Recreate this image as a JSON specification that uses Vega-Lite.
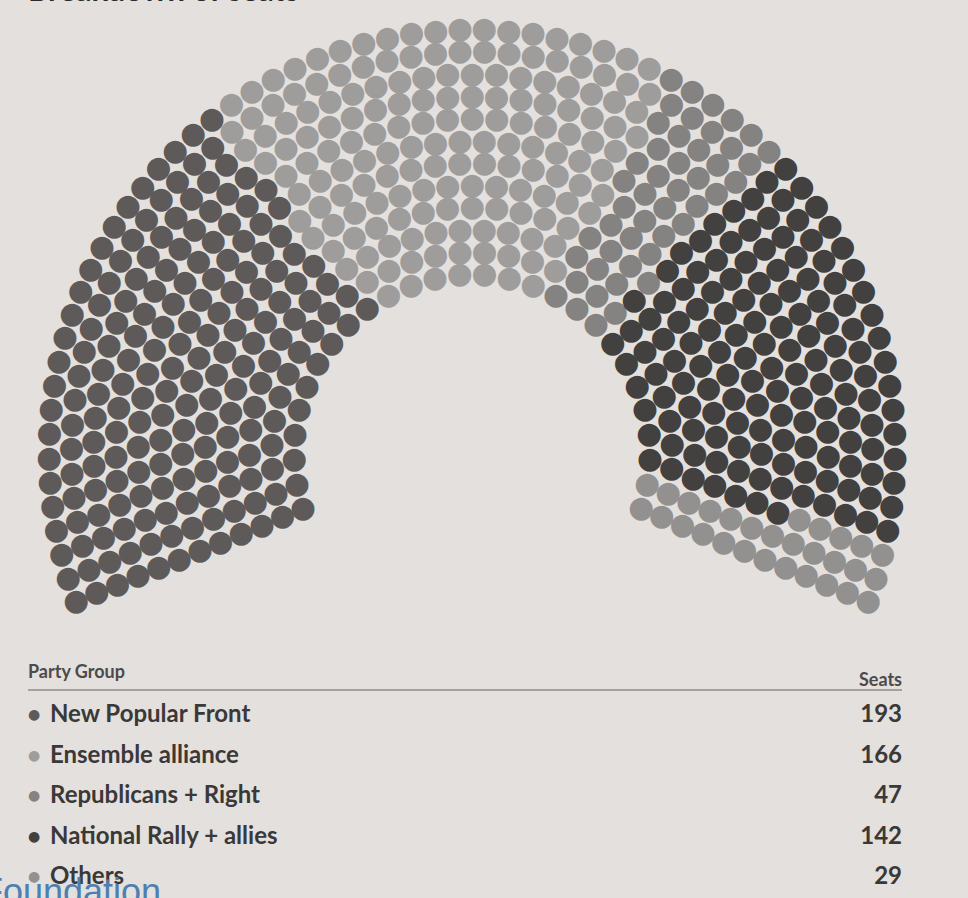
{
"$schema": "https://vega.github.io/schema/vega-lite/v6.json",
"width": 944,
"height": 886,
"autosize": {"type": "none"},
"padding": {"left": 0, "top": 12, "right": 24, "bottom": 0},
"background": "#e3e0dd",
"config": {"view": {"stroke": null}},
"title": {"text": "Breakdown of seats", "anchor": "start", "frame": "group", "offset": -20, "baseline": "alphabetic", "fontSize": 31, "font": "Lato", "fontWeight": "bold", "color": "#2b2929", "dx": 28},
"datasets": {
"parties": [
{"p":"NPF","name":"New Popular Front","seats":193},
{"p":"ENS","name":"Ensemble alliance","seats":166},
{"p":"LR","name":"Republicans + Right","seats":47},
{"p":"RN","name":"National Rally + allies","seats":142},
{"p":"OTH","name":"Others","seats":29}
],
"seats": [
{"r":1,"s":0,"p":"NPF"},{"r":1,"s":1,"p":"NPF"},{"r":1,"s":2,"p":"NPF"},{"r":1,"s":3,"p":"NPF"},{"r":1,"s":4,"p":"NPF"},{"r":1,"s":5,"p":"NPF"},{"r":1,"s":6,"p":"NPF"},{"r":1,"s":7,"p":"NPF"},{"r":1,"s":8,"p":"NPF"},{"r":1,"s":9,"p":"NPF"},
{"r":1,"s":10,"p":"ENS"},{"r":1,"s":11,"p":"ENS"},{"r":1,"s":12,"p":"ENS"},{"r":1,"s":13,"p":"ENS"},{"r":1,"s":14,"p":"ENS"},{"r":1,"s":15,"p":"ENS"},{"r":1,"s":16,"p":"ENS"},
{"r":1,"s":17,"p":"LR"},{"r":1,"s":18,"p":"LR"},{"r":1,"s":19,"p":"LR"},
{"r":1,"s":20,"p":"RN"},{"r":1,"s":21,"p":"RN"},{"r":1,"s":22,"p":"RN"},{"r":1,"s":23,"p":"RN"},{"r":1,"s":24,"p":"RN"},{"r":1,"s":25,"p":"RN"},
{"r":1,"s":26,"p":"OTH"},{"r":1,"s":27,"p":"OTH"},
{"r":2,"s":0,"p":"NPF"},{"r":2,"s":1,"p":"NPF"},{"r":2,"s":2,"p":"NPF"},{"r":2,"s":3,"p":"NPF"},{"r":2,"s":4,"p":"NPF"},{"r":2,"s":5,"p":"NPF"},{"r":2,"s":6,"p":"NPF"},{"r":2,"s":7,"p":"NPF"},{"r":2,"s":8,"p":"NPF"},{"r":2,"s":9,"p":"NPF"},{"r":2,"s":10,"p":"NPF"},
{"r":2,"s":11,"p":"ENS"},{"r":2,"s":12,"p":"ENS"},{"r":2,"s":13,"p":"ENS"},{"r":2,"s":14,"p":"ENS"},{"r":2,"s":15,"p":"ENS"},{"r":2,"s":16,"p":"ENS"},{"r":2,"s":17,"p":"ENS"},{"r":2,"s":18,"p":"ENS"},{"r":2,"s":19,"p":"ENS"},
{"r":2,"s":20,"p":"LR"},{"r":2,"s":21,"p":"LR"},{"r":2,"s":22,"p":"LR"},
{"r":2,"s":23,"p":"RN"},{"r":2,"s":24,"p":"RN"},{"r":2,"s":25,"p":"RN"},{"r":2,"s":26,"p":"RN"},{"r":2,"s":27,"p":"RN"},{"r":2,"s":28,"p":"RN"},{"r":2,"s":29,"p":"RN"},
{"r":2,"s":30,"p":"OTH"},{"r":2,"s":31,"p":"OTH"},
{"r":3,"s":0,"p":"NPF"},{"r":3,"s":1,"p":"NPF"},{"r":3,"s":2,"p":"NPF"},{"r":3,"s":3,"p":"NPF"},{"r":3,"s":4,"p":"NPF"},{"r":3,"s":5,"p":"NPF"},{"r":3,"s":6,"p":"NPF"},{"r":3,"s":7,"p":"NPF"},{"r":3,"s":8,"p":"NPF"},{"r":3,"s":9,"p":"NPF"},{"r":3,"s":10,"p":"NPF"},{"r":3,"s":11,"p":"NPF"},
{"r":3,"s":12,"p":"ENS"},{"r":3,"s":13,"p":"ENS"},{"r":3,"s":14,"p":"ENS"},{"r":3,"s":15,"p":"ENS"},{"r":3,"s":16,"p":"ENS"},{"r":3,"s":17,"p":"ENS"},{"r":3,"s":18,"p":"ENS"},{"r":3,"s":19,"p":"ENS"},{"r":3,"s":20,"p":"ENS"},{"r":3,"s":21,"p":"ENS"},
{"r":3,"s":22,"p":"LR"},{"r":3,"s":23,"p":"LR"},{"r":3,"s":24,"p":"LR"},
{"r":3,"s":25,"p":"RN"},{"r":3,"s":26,"p":"RN"},{"r":3,"s":27,"p":"RN"},{"r":3,"s":28,"p":"RN"},{"r":3,"s":29,"p":"RN"},{"r":3,"s":30,"p":"RN"},{"r":3,"s":31,"p":"RN"},{"r":3,"s":32,"p":"RN"},{"r":3,"s":33,"p":"RN"},
{"r":3,"s":34,"p":"OTH"},{"r":3,"s":35,"p":"OTH"},
{"r":4,"s":0,"p":"NPF"},{"r":4,"s":1,"p":"NPF"},{"r":4,"s":2,"p":"NPF"},{"r":4,"s":3,"p":"NPF"},{"r":4,"s":4,"p":"NPF"},{"r":4,"s":5,"p":"NPF"},{"r":4,"s":6,"p":"NPF"},{"r":4,"s":7,"p":"NPF"},{"r":4,"s":8,"p":"NPF"},{"r":4,"s":9,"p":"NPF"},{"r":4,"s":10,"p":"NPF"},{"r":4,"s":11,"p":"NPF"},{"r":4,"s":12,"p":"NPF"},
{"r":4,"s":13,"p":"ENS"},{"r":4,"s":14,"p":"ENS"},{"r":4,"s":15,"p":"ENS"},{"r":4,"s":16,"p":"ENS"},{"r":4,"s":17,"p":"ENS"},{"r":4,"s":18,"p":"ENS"},{"r":4,"s":19,"p":"ENS"},{"r":4,"s":20,"p":"ENS"},{"r":4,"s":21,"p":"ENS"},{"r":4,"s":22,"p":"ENS"},{"r":4,"s":23,"p":"ENS"},
{"r":4,"s":24,"p":"LR"},{"r":4,"s":25,"p":"LR"},{"r":4,"s":26,"p":"LR"},{"r":4,"s":27,"p":"LR"},
{"r":4,"s":28,"p":"RN"},{"r":4,"s":29,"p":"RN"},{"r":4,"s":30,"p":"RN"},{"r":4,"s":31,"p":"RN"},{"r":4,"s":32,"p":"RN"},{"r":4,"s":33,"p":"RN"},{"r":4,"s":34,"p":"RN"},{"r":4,"s":35,"p":"RN"},{"r":4,"s":36,"p":"RN"},
{"r":4,"s":37,"p":"OTH"},{"r":4,"s":38,"p":"OTH"},
{"r":5,"s":0,"p":"NPF"},{"r":5,"s":1,"p":"NPF"},{"r":5,"s":2,"p":"NPF"},{"r":5,"s":3,"p":"NPF"},{"r":5,"s":4,"p":"NPF"},{"r":5,"s":5,"p":"NPF"},{"r":5,"s":6,"p":"NPF"},{"r":5,"s":7,"p":"NPF"},{"r":5,"s":8,"p":"NPF"},{"r":5,"s":9,"p":"NPF"},{"r":5,"s":10,"p":"NPF"},{"r":5,"s":11,"p":"NPF"},{"r":5,"s":12,"p":"NPF"},{"r":5,"s":13,"p":"NPF"},
{"r":5,"s":14,"p":"ENS"},{"r":5,"s":15,"p":"ENS"},{"r":5,"s":16,"p":"ENS"},{"r":5,"s":17,"p":"ENS"},{"r":5,"s":18,"p":"ENS"},{"r":5,"s":19,"p":"ENS"},{"r":5,"s":20,"p":"ENS"},{"r":5,"s":21,"p":"ENS"},{"r":5,"s":22,"p":"ENS"},{"r":5,"s":23,"p":"ENS"},{"r":5,"s":24,"p":"ENS"},{"r":5,"s":25,"p":"ENS"},{"r":5,"s":26,"p":"ENS"},
{"r":5,"s":27,"p":"LR"},{"r":5,"s":28,"p":"LR"},{"r":5,"s":29,"p":"LR"},
{"r":5,"s":30,"p":"RN"},{"r":5,"s":31,"p":"RN"},{"r":5,"s":32,"p":"RN"},{"r":5,"s":33,"p":"RN"},{"r":5,"s":34,"p":"RN"},{"r":5,"s":35,"p":"RN"},{"r":5,"s":36,"p":"RN"},{"r":5,"s":37,"p":"RN"},{"r":5,"s":38,"p":"RN"},{"r":5,"s":39,"p":"RN"},{"r":5,"s":40,"p":"RN"},
{"r":5,"s":41,"p":"OTH"},{"r":5,"s":42,"p":"OTH"},
{"r":6,"s":0,"p":"NPF"},{"r":6,"s":1,"p":"NPF"},{"r":6,"s":2,"p":"NPF"},{"r":6,"s":3,"p":"NPF"},{"r":6,"s":4,"p":"NPF"},{"r":6,"s":5,"p":"NPF"},{"r":6,"s":6,"p":"NPF"},{"r":6,"s":7,"p":"NPF"},{"r":6,"s":8,"p":"NPF"},{"r":6,"s":9,"p":"NPF"},{"r":6,"s":10,"p":"NPF"},{"r":6,"s":11,"p":"NPF"},{"r":6,"s":12,"p":"NPF"},{"r":6,"s":13,"p":"NPF"},{"r":6,"s":14,"p":"NPF"},
{"r":6,"s":15,"p":"ENS"},{"r":6,"s":16,"p":"ENS"},{"r":6,"s":17,"p":"ENS"},{"r":6,"s":18,"p":"ENS"},{"r":6,"s":19,"p":"ENS"},{"r":6,"s":20,"p":"ENS"},{"r":6,"s":21,"p":"ENS"},{"r":6,"s":22,"p":"ENS"},{"r":6,"s":23,"p":"ENS"},{"r":6,"s":24,"p":"ENS"},{"r":6,"s":25,"p":"ENS"},{"r":6,"s":26,"p":"ENS"},{"r":6,"s":27,"p":"ENS"},{"r":6,"s":28,"p":"ENS"},
{"r":6,"s":29,"p":"LR"},{"r":6,"s":30,"p":"LR"},{"r":6,"s":31,"p":"LR"},
{"r":6,"s":32,"p":"RN"},{"r":6,"s":33,"p":"RN"},{"r":6,"s":34,"p":"RN"},{"r":6,"s":35,"p":"RN"},{"r":6,"s":36,"p":"RN"},{"r":6,"s":37,"p":"RN"},{"r":6,"s":38,"p":"RN"},{"r":6,"s":39,"p":"RN"},{"r":6,"s":40,"p":"RN"},{"r":6,"s":41,"p":"RN"},{"r":6,"s":42,"p":"RN"},{"r":6,"s":43,"p":"RN"},
{"r":6,"s":44,"p":"OTH"},{"r":6,"s":45,"p":"OTH"},
{"r":7,"s":0,"p":"NPF"},{"r":7,"s":1,"p":"NPF"},{"r":7,"s":2,"p":"NPF"},{"r":7,"s":3,"p":"NPF"},{"r":7,"s":4,"p":"NPF"},{"r":7,"s":5,"p":"NPF"},{"r":7,"s":6,"p":"NPF"},{"r":7,"s":7,"p":"NPF"},{"r":7,"s":8,"p":"NPF"},{"r":7,"s":9,"p":"NPF"},{"r":7,"s":10,"p":"NPF"},{"r":7,"s":11,"p":"NPF"},{"r":7,"s":12,"p":"NPF"},{"r":7,"s":13,"p":"NPF"},{"r":7,"s":14,"p":"NPF"},{"r":7,"s":15,"p":"NPF"},{"r":7,"s":16,"p":"NPF"},
{"r":7,"s":17,"p":"ENS"},{"r":7,"s":18,"p":"ENS"},{"r":7,"s":19,"p":"ENS"},{"r":7,"s":20,"p":"ENS"},{"r":7,"s":21,"p":"ENS"},{"r":7,"s":22,"p":"ENS"},{"r":7,"s":23,"p":"ENS"},{"r":7,"s":24,"p":"ENS"},{"r":7,"s":25,"p":"ENS"},{"r":7,"s":26,"p":"ENS"},{"r":7,"s":27,"p":"ENS"},{"r":7,"s":28,"p":"ENS"},{"r":7,"s":29,"p":"ENS"},{"r":7,"s":30,"p":"ENS"},
{"r":7,"s":31,"p":"LR"},{"r":7,"s":32,"p":"LR"},{"r":7,"s":33,"p":"LR"},{"r":7,"s":34,"p":"LR"},
{"r":7,"s":35,"p":"RN"},{"r":7,"s":36,"p":"RN"},{"r":7,"s":37,"p":"RN"},{"r":7,"s":38,"p":"RN"},{"r":7,"s":39,"p":"RN"},{"r":7,"s":40,"p":"RN"},{"r":7,"s":41,"p":"RN"},{"r":7,"s":42,"p":"RN"},{"r":7,"s":43,"p":"RN"},{"r":7,"s":44,"p":"RN"},{"r":7,"s":45,"p":"RN"},{"r":7,"s":46,"p":"RN"},{"r":7,"s":47,"p":"RN"},
{"r":7,"s":48,"p":"OTH"},{"r":7,"s":49,"p":"OTH"},
{"r":8,"s":0,"p":"NPF"},{"r":8,"s":1,"p":"NPF"},{"r":8,"s":2,"p":"NPF"},{"r":8,"s":3,"p":"NPF"},{"r":8,"s":4,"p":"NPF"},{"r":8,"s":5,"p":"NPF"},{"r":8,"s":6,"p":"NPF"},{"r":8,"s":7,"p":"NPF"},{"r":8,"s":8,"p":"NPF"},{"r":8,"s":9,"p":"NPF"},{"r":8,"s":10,"p":"NPF"},{"r":8,"s":11,"p":"NPF"},{"r":8,"s":12,"p":"NPF"},{"r":8,"s":13,"p":"NPF"},{"r":8,"s":14,"p":"NPF"},{"r":8,"s":15,"p":"NPF"},{"r":8,"s":16,"p":"NPF"},{"r":8,"s":17,"p":"NPF"},
{"r":8,"s":18,"p":"ENS"},{"r":8,"s":19,"p":"ENS"},{"r":8,"s":20,"p":"ENS"},{"r":8,"s":21,"p":"ENS"},{"r":8,"s":22,"p":"ENS"},{"r":8,"s":23,"p":"ENS"},{"r":8,"s":24,"p":"ENS"},{"r":8,"s":25,"p":"ENS"},{"r":8,"s":26,"p":"ENS"},{"r":8,"s":27,"p":"ENS"},{"r":8,"s":28,"p":"ENS"},{"r":8,"s":29,"p":"ENS"},{"r":8,"s":30,"p":"ENS"},{"r":8,"s":31,"p":"ENS"},{"r":8,"s":32,"p":"ENS"},
{"r":8,"s":33,"p":"LR"},{"r":8,"s":34,"p":"LR"},{"r":8,"s":35,"p":"LR"},{"r":8,"s":36,"p":"LR"},
{"r":8,"s":37,"p":"RN"},{"r":8,"s":38,"p":"RN"},{"r":8,"s":39,"p":"RN"},{"r":8,"s":40,"p":"RN"},{"r":8,"s":41,"p":"RN"},{"r":8,"s":42,"p":"RN"},{"r":8,"s":43,"p":"RN"},{"r":8,"s":44,"p":"RN"},{"r":8,"s":45,"p":"RN"},{"r":8,"s":46,"p":"RN"},{"r":8,"s":47,"p":"RN"},{"r":8,"s":48,"p":"RN"},{"r":8,"s":49,"p":"RN"},
{"r":8,"s":50,"p":"OTH"},{"r":8,"s":51,"p":"OTH"},{"r":8,"s":52,"p":"OTH"},
{"r":9,"s":0,"p":"NPF"},{"r":9,"s":1,"p":"NPF"},{"r":9,"s":2,"p":"NPF"},{"r":9,"s":3,"p":"NPF"},{"r":9,"s":4,"p":"NPF"},{"r":9,"s":5,"p":"NPF"},{"r":9,"s":6,"p":"NPF"},{"r":9,"s":7,"p":"NPF"},{"r":9,"s":8,"p":"NPF"},{"r":9,"s":9,"p":"NPF"},{"r":9,"s":10,"p":"NPF"},{"r":9,"s":11,"p":"NPF"},{"r":9,"s":12,"p":"NPF"},{"r":9,"s":13,"p":"NPF"},{"r":9,"s":14,"p":"NPF"},{"r":9,"s":15,"p":"NPF"},{"r":9,"s":16,"p":"NPF"},{"r":9,"s":17,"p":"NPF"},{"r":9,"s":18,"p":"NPF"},
{"r":9,"s":19,"p":"ENS"},{"r":9,"s":20,"p":"ENS"},{"r":9,"s":21,"p":"ENS"},{"r":9,"s":22,"p":"ENS"},{"r":9,"s":23,"p":"ENS"},{"r":9,"s":24,"p":"ENS"},{"r":9,"s":25,"p":"ENS"},{"r":9,"s":26,"p":"ENS"},{"r":9,"s":27,"p":"ENS"},{"r":9,"s":28,"p":"ENS"},{"r":9,"s":29,"p":"ENS"},{"r":9,"s":30,"p":"ENS"},{"r":9,"s":31,"p":"ENS"},{"r":9,"s":32,"p":"ENS"},{"r":9,"s":33,"p":"ENS"},{"r":9,"s":34,"p":"ENS"},{"r":9,"s":35,"p":"ENS"},
{"r":9,"s":36,"p":"LR"},{"r":9,"s":37,"p":"LR"},{"r":9,"s":38,"p":"LR"},{"r":9,"s":39,"p":"LR"},
{"r":9,"s":40,"p":"RN"},{"r":9,"s":41,"p":"RN"},{"r":9,"s":42,"p":"RN"},{"r":9,"s":43,"p":"RN"},{"r":9,"s":44,"p":"RN"},{"r":9,"s":45,"p":"RN"},{"r":9,"s":46,"p":"RN"},{"r":9,"s":47,"p":"RN"},{"r":9,"s":48,"p":"RN"},{"r":9,"s":49,"p":"RN"},{"r":9,"s":50,"p":"RN"},{"r":9,"s":51,"p":"RN"},{"r":9,"s":52,"p":"RN"},{"r":9,"s":53,"p":"RN"},
{"r":9,"s":54,"p":"OTH"},{"r":9,"s":55,"p":"OTH"},{"r":9,"s":56,"p":"OTH"},
{"r":10,"s":0,"p":"NPF"},{"r":10,"s":1,"p":"NPF"},{"r":10,"s":2,"p":"NPF"},{"r":10,"s":3,"p":"NPF"},{"r":10,"s":4,"p":"NPF"},{"r":10,"s":5,"p":"NPF"},{"r":10,"s":6,"p":"NPF"},{"r":10,"s":7,"p":"NPF"},{"r":10,"s":8,"p":"NPF"},{"r":10,"s":9,"p":"NPF"},{"r":10,"s":10,"p":"NPF"},{"r":10,"s":11,"p":"NPF"},{"r":10,"s":12,"p":"NPF"},{"r":10,"s":13,"p":"NPF"},{"r":10,"s":14,"p":"NPF"},{"r":10,"s":15,"p":"NPF"},{"r":10,"s":16,"p":"NPF"},{"r":10,"s":17,"p":"NPF"},{"r":10,"s":18,"p":"NPF"},{"r":10,"s":19,"p":"NPF"},
{"r":10,"s":20,"p":"ENS"},{"r":10,"s":21,"p":"ENS"},{"r":10,"s":22,"p":"ENS"},{"r":10,"s":23,"p":"ENS"},{"r":10,"s":24,"p":"ENS"},{"r":10,"s":25,"p":"ENS"},{"r":10,"s":26,"p":"ENS"},{"r":10,"s":27,"p":"ENS"},{"r":10,"s":28,"p":"ENS"},{"r":10,"s":29,"p":"ENS"},{"r":10,"s":30,"p":"ENS"},{"r":10,"s":31,"p":"ENS"},{"r":10,"s":32,"p":"ENS"},{"r":10,"s":33,"p":"ENS"},{"r":10,"s":34,"p":"ENS"},{"r":10,"s":35,"p":"ENS"},{"r":10,"s":36,"p":"ENS"},{"r":10,"s":37,"p":"ENS"},
{"r":10,"s":38,"p":"LR"},{"r":10,"s":39,"p":"LR"},{"r":10,"s":40,"p":"LR"},{"r":10,"s":41,"p":"LR"},{"r":10,"s":42,"p":"LR"},
{"r":10,"s":43,"p":"RN"},{"r":10,"s":44,"p":"RN"},{"r":10,"s":45,"p":"RN"},{"r":10,"s":46,"p":"RN"},{"r":10,"s":47,"p":"RN"},{"r":10,"s":48,"p":"RN"},{"r":10,"s":49,"p":"RN"},{"r":10,"s":50,"p":"RN"},{"r":10,"s":51,"p":"RN"},{"r":10,"s":52,"p":"RN"},{"r":10,"s":53,"p":"RN"},{"r":10,"s":54,"p":"RN"},{"r":10,"s":55,"p":"RN"},{"r":10,"s":56,"p":"RN"},{"r":10,"s":57,"p":"RN"},
{"r":10,"s":58,"p":"OTH"},{"r":10,"s":59,"p":"OTH"},{"r":10,"s":60,"p":"OTH"},
{"r":11,"s":0,"p":"NPF"},{"r":11,"s":1,"p":"NPF"},{"r":11,"s":2,"p":"NPF"},{"r":11,"s":3,"p":"NPF"},{"r":11,"s":4,"p":"NPF"},{"r":11,"s":5,"p":"NPF"},{"r":11,"s":6,"p":"NPF"},{"r":11,"s":7,"p":"NPF"},{"r":11,"s":8,"p":"NPF"},{"r":11,"s":9,"p":"NPF"},{"r":11,"s":10,"p":"NPF"},{"r":11,"s":11,"p":"NPF"},{"r":11,"s":12,"p":"NPF"},{"r":11,"s":13,"p":"NPF"},{"r":11,"s":14,"p":"NPF"},{"r":11,"s":15,"p":"NPF"},{"r":11,"s":16,"p":"NPF"},{"r":11,"s":17,"p":"NPF"},{"r":11,"s":18,"p":"NPF"},{"r":11,"s":19,"p":"NPF"},{"r":11,"s":20,"p":"NPF"},
{"r":11,"s":21,"p":"ENS"},{"r":11,"s":22,"p":"ENS"},{"r":11,"s":23,"p":"ENS"},{"r":11,"s":24,"p":"ENS"},{"r":11,"s":25,"p":"ENS"},{"r":11,"s":26,"p":"ENS"},{"r":11,"s":27,"p":"ENS"},{"r":11,"s":28,"p":"ENS"},{"r":11,"s":29,"p":"ENS"},{"r":11,"s":30,"p":"ENS"},{"r":11,"s":31,"p":"ENS"},{"r":11,"s":32,"p":"ENS"},{"r":11,"s":33,"p":"ENS"},{"r":11,"s":34,"p":"ENS"},{"r":11,"s":35,"p":"ENS"},{"r":11,"s":36,"p":"ENS"},{"r":11,"s":37,"p":"ENS"},{"r":11,"s":38,"p":"ENS"},{"r":11,"s":39,"p":"ENS"},
{"r":11,"s":40,"p":"LR"},{"r":11,"s":41,"p":"LR"},{"r":11,"s":42,"p":"LR"},{"r":11,"s":43,"p":"LR"},{"r":11,"s":44,"p":"LR"},
{"r":11,"s":45,"p":"RN"},{"r":11,"s":46,"p":"RN"},{"r":11,"s":47,"p":"RN"},{"r":11,"s":48,"p":"RN"},{"r":11,"s":49,"p":"RN"},{"r":11,"s":50,"p":"RN"},{"r":11,"s":51,"p":"RN"},{"r":11,"s":52,"p":"RN"},{"r":11,"s":53,"p":"RN"},{"r":11,"s":54,"p":"RN"},{"r":11,"s":55,"p":"RN"},{"r":11,"s":56,"p":"RN"},{"r":11,"s":57,"p":"RN"},{"r":11,"s":58,"p":"RN"},{"r":11,"s":59,"p":"RN"},{"r":11,"s":60,"p":"RN"},
{"r":11,"s":61,"p":"OTH"},{"r":11,"s":62,"p":"OTH"},{"r":11,"s":63,"p":"OTH"},
{"r":12,"s":0,"p":"NPF"},{"r":12,"s":1,"p":"NPF"},{"r":12,"s":2,"p":"NPF"},{"r":12,"s":3,"p":"NPF"},{"r":12,"s":4,"p":"NPF"},{"r":12,"s":5,"p":"NPF"},{"r":12,"s":6,"p":"NPF"},{"r":12,"s":7,"p":"NPF"},{"r":12,"s":8,"p":"NPF"},{"r":12,"s":9,"p":"NPF"},{"r":12,"s":10,"p":"NPF"},{"r":12,"s":11,"p":"NPF"},{"r":12,"s":12,"p":"NPF"},{"r":12,"s":13,"p":"NPF"},{"r":12,"s":14,"p":"NPF"},{"r":12,"s":15,"p":"NPF"},{"r":12,"s":16,"p":"NPF"},{"r":12,"s":17,"p":"NPF"},{"r":12,"s":18,"p":"NPF"},{"r":12,"s":19,"p":"NPF"},{"r":12,"s":20,"p":"NPF"},{"r":12,"s":21,"p":"NPF"},{"r":12,"s":22,"p":"NPF"},
{"r":12,"s":23,"p":"ENS"},{"r":12,"s":24,"p":"ENS"},{"r":12,"s":25,"p":"ENS"},{"r":12,"s":26,"p":"ENS"},{"r":12,"s":27,"p":"ENS"},{"r":12,"s":28,"p":"ENS"},{"r":12,"s":29,"p":"ENS"},{"r":12,"s":30,"p":"ENS"},{"r":12,"s":31,"p":"ENS"},{"r":12,"s":32,"p":"ENS"},{"r":12,"s":33,"p":"ENS"},{"r":12,"s":34,"p":"ENS"},{"r":12,"s":35,"p":"ENS"},{"r":12,"s":36,"p":"ENS"},{"r":12,"s":37,"p":"ENS"},{"r":12,"s":38,"p":"ENS"},{"r":12,"s":39,"p":"ENS"},{"r":12,"s":40,"p":"ENS"},{"r":12,"s":41,"p":"ENS"},
{"r":12,"s":42,"p":"LR"},{"r":12,"s":43,"p":"LR"},{"r":12,"s":44,"p":"LR"},{"r":12,"s":45,"p":"LR"},{"r":12,"s":46,"p":"LR"},{"r":12,"s":47,"p":"LR"},
{"r":12,"s":48,"p":"RN"},{"r":12,"s":49,"p":"RN"},{"r":12,"s":50,"p":"RN"},{"r":12,"s":51,"p":"RN"},{"r":12,"s":52,"p":"RN"},{"r":12,"s":53,"p":"RN"},{"r":12,"s":54,"p":"RN"},{"r":12,"s":55,"p":"RN"},{"r":12,"s":56,"p":"RN"},{"r":12,"s":57,"p":"RN"},{"r":12,"s":58,"p":"RN"},{"r":12,"s":59,"p":"RN"},{"r":12,"s":60,"p":"RN"},{"r":12,"s":61,"p":"RN"},{"r":12,"s":62,"p":"RN"},{"r":12,"s":63,"p":"RN"},{"r":12,"s":64,"p":"RN"},
{"r":12,"s":65,"p":"OTH"},{"r":12,"s":66,"p":"OTH"},{"r":12,"s":67,"p":"OTH"}
]
},
"layer": [
{
"data": {"name": "seats"},
"mark": {"type": "text", "font": "DejaVu Sans", "fontSize": 30, "baseline": "middle", "align": "center", "dy": -3},
"encoding": {
"theta": {"aggregate": "count", "type": "quantitative", "stack": "normalize", "scale": {"range": [-1.959, 1.959]}},
"radius": {"field": "r", "type": "quantitative", "scale": {"type": "linear", "domain": [1, 12], "range": [178, 423], "zero": false}},
"order": {"field": "s", "type": "quantitative", "sort": "ascending"},
"color": {"field": "p", "type": "nominal", "scale": {"domain": ["NPF","ENS","LR","RN","OTH"], "range": ["#5e5a5a","#9f9c9c","#858282","#434040","#939090"]}, "legend": null},
"text": {"value": "●"}
}
},
{
"data": {"name": "parties"},
"mark": {"type": "text", "font": "DejaVu Sans", "fontSize": 14, "baseline": "middle", "align": "left"},
"encoding": {
"x": {"datum": 0, "type": "quantitative", "scale": {"domain": [0, 1], "range": [28, 902]}, "axis": null},
"y": {"field": "p", "type": "nominal", "scale": {"type": "point", "domain": ["hdr","NPF","ENS","LR","RN","OTH"], "range": [663, 865], "padding": 0}, "axis": null},
"color": {"field": "p", "type": "nominal", "scale": {"domain": ["NPF","ENS","LR","RN","OTH"], "range": ["#5e5a5a","#9f9c9c","#858282","#434040","#939090"]}, "legend": null},
"text": {"value": "●"}
}
},
{
"data": {"name": "parties"},
"mark": {"type": "text", "font": "Lato", "fontWeight": "bold", "fontSize": 24, "baseline": "middle", "align": "left", "dx": 22, "color": "#3b3838"},
"encoding": {
"x": {"datum": 0, "type": "quantitative", "scale": {"domain": [0, 1], "range": [28, 902]}, "axis": null},
"y": {"field": "p", "type": "nominal", "scale": {"type": "point", "domain": ["hdr","NPF","ENS","LR","RN","OTH"], "range": [663, 865], "padding": 0}, "axis": null},
"text": {"field": "name"}
}
},
{
"data": {"name": "parties"},
"mark": {"type": "text", "font": "Lato", "fontWeight": "bold", "fontSize": 24, "baseline": "middle", "align": "right", "color": "#3b3838"},
"encoding": {
"x": {"datum": 1, "type": "quantitative", "scale": {"domain": [0, 1], "range": [28, 902]}, "axis": null},
"y": {"field": "p", "type": "nominal", "scale": {"type": "point", "domain": ["hdr","NPF","ENS","LR","RN","OTH"], "range": [663, 865], "padding": 0}, "axis": null},
"text": {"field": "seats"}
}
},
{
"data": {"values": [{"t": "Party Group"}]},
"mark": {"type": "text", "font": "Lato", "fontWeight": "bold", "fontSize": 18, "baseline": "middle", "align": "left", "dy": -2, "color": "#4d4a4a"},
"encoding": {
"x": {"datum": 0, "type": "quantitative", "scale": {"domain": [0, 1], "range": [28, 902]}, "axis": null},
"y": {"datum": "hdr", "type": "nominal", "scale": {"type": "point", "domain": ["hdr","NPF","ENS","LR","RN","OTH"], "range": [663, 865], "padding": 0}, "axis": null},
"text": {"field": "t"}
}
},
{
"data": {"values": [{"t": "Seats"}]},
"mark": {"type": "text", "font": "Lato", "fontWeight": "bold", "fontSize": 18, "baseline": "middle", "align": "right", "dy": 6, "color": "#4d4a4a"},
"encoding": {
"x": {"datum": 1, "type": "quantitative", "scale": {"domain": [0, 1], "range": [28, 902]}, "axis": null},
"y": {"datum": "hdr", "type": "nominal", "scale": {"type": "point", "domain": ["hdr","NPF","ENS","LR","RN","OTH"], "range": [663, 865], "padding": 0}, "axis": null},
"text": {"field": "t"}
}
},
{
"data": {"values": [{"t": "rule"}]},
"mark": {"type": "rule", "color": "#8f8c8c", "strokeWidth": 1.5, "yOffset": 15},
"encoding": {
"x": {"datum": 0, "type": "quantitative", "scale": {"domain": [0, 1], "range": [28, 902]}, "axis": null},
"x2": {"datum": 1},
"y": {"datum": "hdr", "type": "nominal", "scale": {"type": "point", "domain": ["hdr","NPF","ENS","LR","RN","OTH"], "range": [663, 865], "padding": 0}, "axis": null}
}
},
{
"data": {"values": [{"t": "Foundation"}]},
"mark": {"type": "text", "font": "Liberation Sans", "fontSize": 36, "baseline": "alphabetic", "align": "left", "dx": -47, "dy": 27, "color": "#4f7fb0"},
"encoding": {
"x": {"datum": 0, "type": "quantitative", "scale": {"domain": [0, 1], "range": [28, 902]}, "axis": null},
"y": {"datum": "OTH", "type": "nominal", "scale": {"type": "point", "domain": ["hdr","NPF","ENS","LR","RN","OTH"], "range": [663, 865], "padding": 0}, "axis": null},
"text": {"field": "t"}
}
}
]
}
